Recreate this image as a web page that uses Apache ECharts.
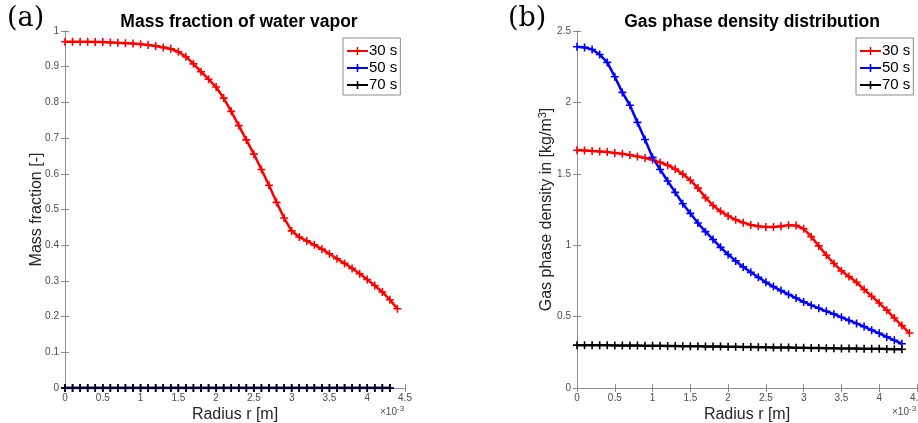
<!DOCTYPE html>
<html>
<head>
<meta charset="utf-8">
<script src="https://cdn.jsdelivr.net/npm/echarts@6/dist/echarts.min.js"></script>
<style>
  html, body { margin: 0; padding: 0; background: #fff; }
  #main { width: 918px; height: 423px; }
</style>
</head>
<body>
<div id="main"></div>
<script>
// radius in units of 1e-3 m
const radius = [0, 0.1, 0.2, 0.3, 0.4, 0.5, 0.6, 0.7, 0.8, 0.9, 1.0, 1.1, 1.2, 1.3, 1.4, 1.5,
  1.6, 1.7, 1.8, 1.9, 2.0, 2.1, 2.2, 2.3, 2.4, 2.5, 2.6, 2.7, 2.8, 2.9, 3.0, 3.1, 3.2, 3.3,
  3.4, 3.5, 3.6, 3.7, 3.8, 3.9, 4.0, 4.1, 4.2, 4.3, 4.4]

// (a) mass fraction of water vapor
const massFrac30 = [0.970, 0.970, 0.970, 0.970, 0.969, 0.969, 0.968, 0.967, 0.966, 0.965,
  0.963, 0.961, 0.958, 0.954, 0.950, 0.942, 0.928, 0.908, 0.886, 0.865, 0.843, 0.812,
  0.775, 0.735, 0.695, 0.655, 0.612, 0.568, 0.520, 0.476, 0.440, 0.423, 0.412, 0.401,
  0.389, 0.376, 0.362, 0.349, 0.335, 0.320, 0.304, 0.287, 0.269, 0.247, 0.222]
const massFrac50 = [0, 0, 0, 0, 0, 0, 0, 0, 0, 0, 0, 0, 0, 0, 0, 0, 0, 0, 0, 0, 0, 0,
  0, 0, 0, 0, 0, 0, 0, 0, 0, 0, 0, 0, 0, 0, 0, 0, 0, 0, 0, 0, 0, 0]
const massFrac70 = [0, 0, 0, 0, 0, 0, 0, 0, 0, 0, 0, 0, 0, 0, 0, 0, 0, 0, 0, 0, 0, 0,
  0, 0, 0, 0, 0, 0, 0, 0, 0, 0, 0, 0, 0, 0, 0, 0, 0, 0, 0, 0, 0, 0]

// (b) gas phase density [kg/m3]
const density30 = [1.665, 1.663, 1.660, 1.656, 1.652, 1.646, 1.640, 1.632, 1.622, 1.610,
  1.598, 1.580, 1.560, 1.533, 1.498, 1.455, 1.400, 1.333, 1.278, 1.237, 1.205, 1.178,
  1.158, 1.142, 1.132, 1.127, 1.127, 1.132, 1.140, 1.138, 1.115, 1.060, 0.995, 0.930,
  0.872, 0.820, 0.780, 0.740, 0.690, 0.643, 0.595, 0.545, 0.490, 0.437, 0.385]
const density50 = [2.390, 2.385, 2.370, 2.335, 2.280, 2.180, 2.070, 1.980, 1.860, 1.740,
  1.615, 1.530, 1.450, 1.370, 1.290, 1.223, 1.155, 1.095, 1.040, 0.985, 0.935, 0.890,
  0.848, 0.810, 0.775, 0.740, 0.710, 0.682, 0.655, 0.630, 0.603, 0.580, 0.558, 0.537,
  0.517, 0.495, 0.473, 0.452, 0.430, 0.405, 0.383, 0.358, 0.334, 0.310]
const density70 = [0.300, 0.300, 0.300, 0.299, 0.299, 0.298, 0.298, 0.297, 0.297, 0.296,
  0.296, 0.295, 0.294, 0.294, 0.293, 0.292, 0.292, 0.291, 0.290, 0.290, 0.289, 0.288,
  0.287, 0.287, 0.286, 0.285, 0.284, 0.284, 0.283, 0.282, 0.281, 0.280, 0.280, 0.279,
  0.278, 0.277, 0.277, 0.276, 0.275, 0.274, 0.274, 0.273, 0.272, 0.271]

const seriesNames = ['30 s', '50 s', '70 s']
const colors = ['#ff0000', '#0000ff', '#000000']

const plus = 'path://M4,0 L6,0 L6,4 L10,4 L10,6 L6,6 L6,10 L4,10 L4,6 L0,6 L0,4 L4,4 Z'
const font = 'Liberation Sans, Arial, sans-serif'
const axisGray = '#8c8c8c'
const labelGray = '#4d4d4d'

function pairs(ys) {
  return ys.map((y, i) => [radius[i], y])
}

function lineSeries(name, color, ys, axisIdx) {
  return {
    name: name,
    type: 'line',
    xAxisIndex: axisIdx,
    yAxisIndex: axisIdx,
    data: pairs(ys),
    color: color,
    symbol: plus,
    symbolSize: 8,
    showSymbol: true,
    lineStyle: { width: 2.5, color: color },
    itemStyle: { color: color },
    animation: false
  }
}

function xAxes(gridIndex) {
  return [{
    type: 'value',
    gridIndex: gridIndex,
    min: 0,
    max: 4.5,
    interval: 0.5,
    name: 'Radius r [m]',
    nameLocation: 'middle',
    nameGap: 19,
    nameMoveOverlap: false,
    nameTextStyle: { fontFamily: font, fontSize: 16, color: '#262626' },
    axisLine: { show: true, lineStyle: { color: axisGray } },
    axisTick: { show: true, inside: true, length: 4, lineStyle: { color: axisGray } },
    axisLabel: { fontFamily: font, fontSize: 10, color: labelGray, margin: 5, showMaxLabel: true },
    splitLine: { show: false }
  }, {
    type: 'value',
    gridIndex: gridIndex,
    position: 'top',
    min: 0,
    max: 4.5,
    interval: 0.5,
    axisLine: { show: true, lineStyle: { color: axisGray } },
    axisTick: { show: true, inside: true, length: 4, lineStyle: { color: axisGray } },
    axisLabel: { show: false },
    splitLine: { show: false }
  }]
}

function yAxes(gridIndex, max, interval, name, nameGap) {
  return [{
    type: 'value',
    gridIndex: gridIndex,
    min: 0,
    max: max,
    interval: interval,
    name: name,
    nameLocation: 'middle',
    nameGap: nameGap,
    nameMoveOverlap: false,
    nameTextStyle: {
      fontFamily: font, fontSize: 16, color: '#262626',
      rich: { sup: { fontFamily: font, fontSize: 11, color: '#262626', verticalAlign: 'top', padding: [0, 0, 8, 0] } }
    },
    axisLine: { show: true, lineStyle: { color: axisGray } },
    axisTick: { show: true, inside: true, length: 4, lineStyle: { color: axisGray } },
    axisLabel: { fontFamily: font, fontSize: 10, color: labelGray, margin: 6 },
    splitLine: { show: false }
  }, {
    type: 'value',
    gridIndex: gridIndex,
    position: 'right',
    min: 0,
    max: max,
    interval: interval,
    axisLine: { show: true, lineStyle: { color: axisGray } },
    axisTick: { show: true, inside: true, length: 4, lineStyle: { color: axisGray } },
    axisLabel: { show: false },
    splitLine: { show: false }
  }]
}

function legendBox(left) {
  return {
    data: seriesNames,
    orient: 'vertical',
    left: left,
    top: 38,
    itemWidth: 21,
    itemHeight: 10,
    itemGap: 1,
    padding: [5, 3, 2, 3],
    borderColor: '#8c8c8c',
    borderWidth: 1,
    borderRadius: 0,
    backgroundColor: '#fff',
    textStyle: { fontFamily: font, fontSize: 15, lineHeight: 16, color: '#000', padding: [0, 0, 0, -4] }
  }
}

const myChart = echarts.init(document.getElementById('main'))

const xa = xAxes(0).concat(xAxes(1))
const ya = yAxes(0, 1, 0.1, 'Mass fraction [-]', 20)
  .concat(yAxes(1, 2.5, 0.5, 'Gas phase density in [kg/m{sup|3}]', 21))

const options = {
  backgroundColor: '#fff',
  animation: false,
  title: [{
    text: 'Mass fraction of water vapor',
    left: 234,
    textAlign: 'center',
    top: 8,
    textStyle: { fontFamily: font, fontSize: 17.5, fontWeight: 'bold', color: '#000' }
  }, {
    text: 'Gas phase density distribution',
    left: 747,
    textAlign: 'center',
    top: 8,
    textStyle: { fontFamily: font, fontSize: 17.5, fontWeight: 'bold', color: '#000' }
  }],
  legend: [legendBox(343), legendBox(856)],
  grid: [
    { left: 65, top: 31, width: 340, height: 357, outerBoundsMode: 'none' },
    { left: 577, top: 31, width: 340, height: 357, outerBoundsMode: 'none' }
  ],
  xAxis: xa,
  yAxis: ya,
  graphic: [
    { type: 'text', left: 7, top: 5, style: { text: '(a)', fontFamily: 'DejaVu Serif, Liberation Serif, serif', fontSize: 27, fill: '#000' } },
    { type: 'text', left: 508, top: 5, style: { text: '(b)', fontFamily: 'DejaVu Serif, Liberation Serif, serif', fontSize: 27, fill: '#000' } },
    {
      type: 'text', left: 380, top: 405,
      style: {
        text: '×10{sup|-3}', fontFamily: font, fontSize: 10, fill: labelGray,
        rich: { sup: { fontSize: 8, fill: labelGray, verticalAlign: 'top', padding: [0, 0, 6, 0] } }
      }
    },
    {
      type: 'text', left: 892, top: 405,
      style: {
        text: '×10{sup|-3}', fontFamily: font, fontSize: 10, fill: labelGray,
        rich: { sup: { fontSize: 8, fill: labelGray, verticalAlign: 'top', padding: [0, 0, 6, 0] } }
      }
    }
  ],
  series: [
    lineSeries('30 s', colors[0], massFrac30, 0),
    lineSeries('50 s', colors[1], massFrac50, 0),
    lineSeries('70 s', colors[2], massFrac70, 0),
    lineSeries('30 s', colors[0], density30, 2),
    lineSeries('50 s', colors[1], density50, 2),
    lineSeries('70 s', colors[2], density70, 2)
  ]
}

myChart.setOption(options)
</script>
</body>
</html>
